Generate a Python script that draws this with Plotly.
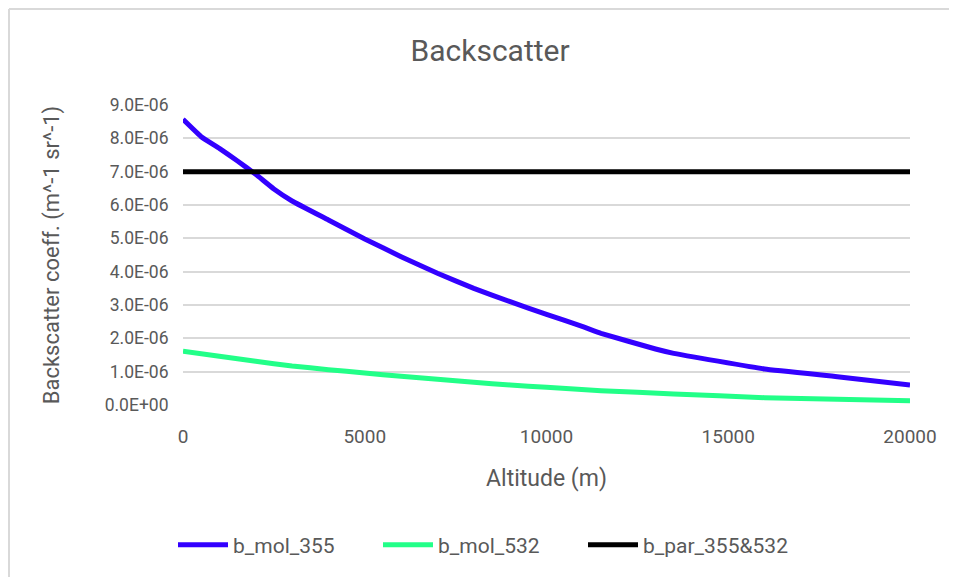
import plotly.graph_objects as go

# Data
alt_355 = [0, 500, 1000, 1500, 2000, 2500, 3000, 4000, 5000, 6000, 7000, 8000,
           9000, 10000, 11000, 11500, 13000, 13500, 16000, 18000, 20000]
b_mol_355 = [8.57e-6, 8.05e-6, 7.7e-6, 7.32e-6, 6.92e-6, 6.48e-6, 6.12e-6, 5.55e-6,
             4.98e-6, 4.45e-6, 3.95e-6, 3.5e-6, 3.1e-6, 2.72e-6, 2.35e-6, 2.15e-6,
             1.68e-6, 1.55e-6, 1.08e-6, 0.85e-6, 0.6e-6]

alt_532 = [0, 1000, 2000, 3000, 4000, 5000, 6000, 7000, 8000, 9000, 10000, 11500,
           13500, 16000, 18000, 20000]
b_mol_532 = [1.61e-6, 1.46e-6, 1.31e-6, 1.17e-6, 1.06e-6, 0.96e-6, 0.86e-6, 0.77e-6,
             0.68e-6, 0.6e-6, 0.53e-6, 0.43e-6, 0.33e-6, 0.22e-6, 0.17e-6, 0.13e-6]

alt_par = [0, 20000]
b_par = [7.0e-6, 7.0e-6]

y_ticks = [0, 1e-6, 2e-6, 3e-6, 4e-6, 5e-6, 6e-6, 7e-6, 8e-6, 9e-6]
y_ticktext = [f"{v:.1E}" for v in y_ticks]
x_ticks = [0, 5000, 10000, 15000, 20000]
x_ticktext = [str(v) for v in x_ticks]

FONT = "Roboto, sans-serif"
GRAY = "#595959"
CLEAR = "rgba(0,0,0,0)"

# figure is 8px smaller than the window because of the page's body margin
W, H = 949, 569
L, T, PW, PH = 175, 97, 727, 300
R, B = W - L - PW, H - T - PH

fig = go.Figure()
fig.add_trace(go.Scatter(x=alt_355, y=b_mol_355, mode="lines", name="b_mol_355",
                         line=dict(color="#3300FF", width=5, shape="spline", smoothing=0.3)))
fig.add_trace(go.Scatter(x=alt_532, y=b_mol_532, mode="lines", name="b_mol_532",
                         line=dict(color="#22FF88", width=5, shape="spline", smoothing=0.3)))
fig.add_trace(go.Scatter(x=alt_par, y=b_par, mode="lines", name="b_par_355&532",
                         line=dict(color="#000000", width=5)))

fig.update_layout(
    width=W, height=H,
    margin=dict(l=L, r=R, t=T, b=B),
    paper_bgcolor="white", plot_bgcolor="white",
    font=dict(family=FONT, color=GRAY, size=17),
    title=dict(text="Backscatter", x=0.508, xanchor="center", xref="container",
               y=1 - 42 / H, yanchor="middle", yref="container",
               font=dict(family=FONT, size=30, color=GRAY)),
    showlegend=True,
    legend=dict(orientation="h", x=(165 - L) / PW, xanchor="left", y=(0 - 140) / PH,
                yanchor="middle",
                font=dict(family=FONT, size=21, color=GRAY), itemwidth=50,
                entrywidth=140, entrywidthmode="pixels",
                traceorder="normal"),
    xaxis=dict(range=[0, 20000], tickvals=x_ticks, ticktext=x_ticktext, showgrid=False,
               zeroline=False, showline=False, ticks="outside", ticklen=14, tickcolor=CLEAR,
               tickfont=dict(size=19, color=GRAY),
               title=dict(text="Altitude (m)", font=dict(size=23, color=GRAY), standoff=23)),
    yaxis=dict(range=[0, 9e-6], tickvals=y_ticks, ticktext=y_ticktext, showgrid=True,
               gridcolor="#D9D9D9", gridwidth=1.5, zeroline=False, showline=False,
               ticks="outside", ticklen=10, tickcolor=CLEAR,
               tickfont=dict(size=17.5, color=GRAY),
               title=dict(text="Backscatter coeff. (m^-1 sr^-1)", font=dict(size=22, color=GRAY),
                          standoff=38)),
    shapes=[
        dict(type="line", xref="paper", yref="paper", x0=(1 - L) / PW, x1=1.2,
             y0=(PH + T - 1) / PH, y1=(PH + T - 1) / PH,
             line=dict(color="#D9D9D9", width=2)),
        dict(type="line", xref="paper", yref="paper", x0=(1 - L) / PW, x1=(1 - L) / PW,
             y0=(PH + T - 1) / PH, y1=-0.7,
             line=dict(color="#D9D9D9", width=2)),
    ],
)

fig.write_html("out.html")
